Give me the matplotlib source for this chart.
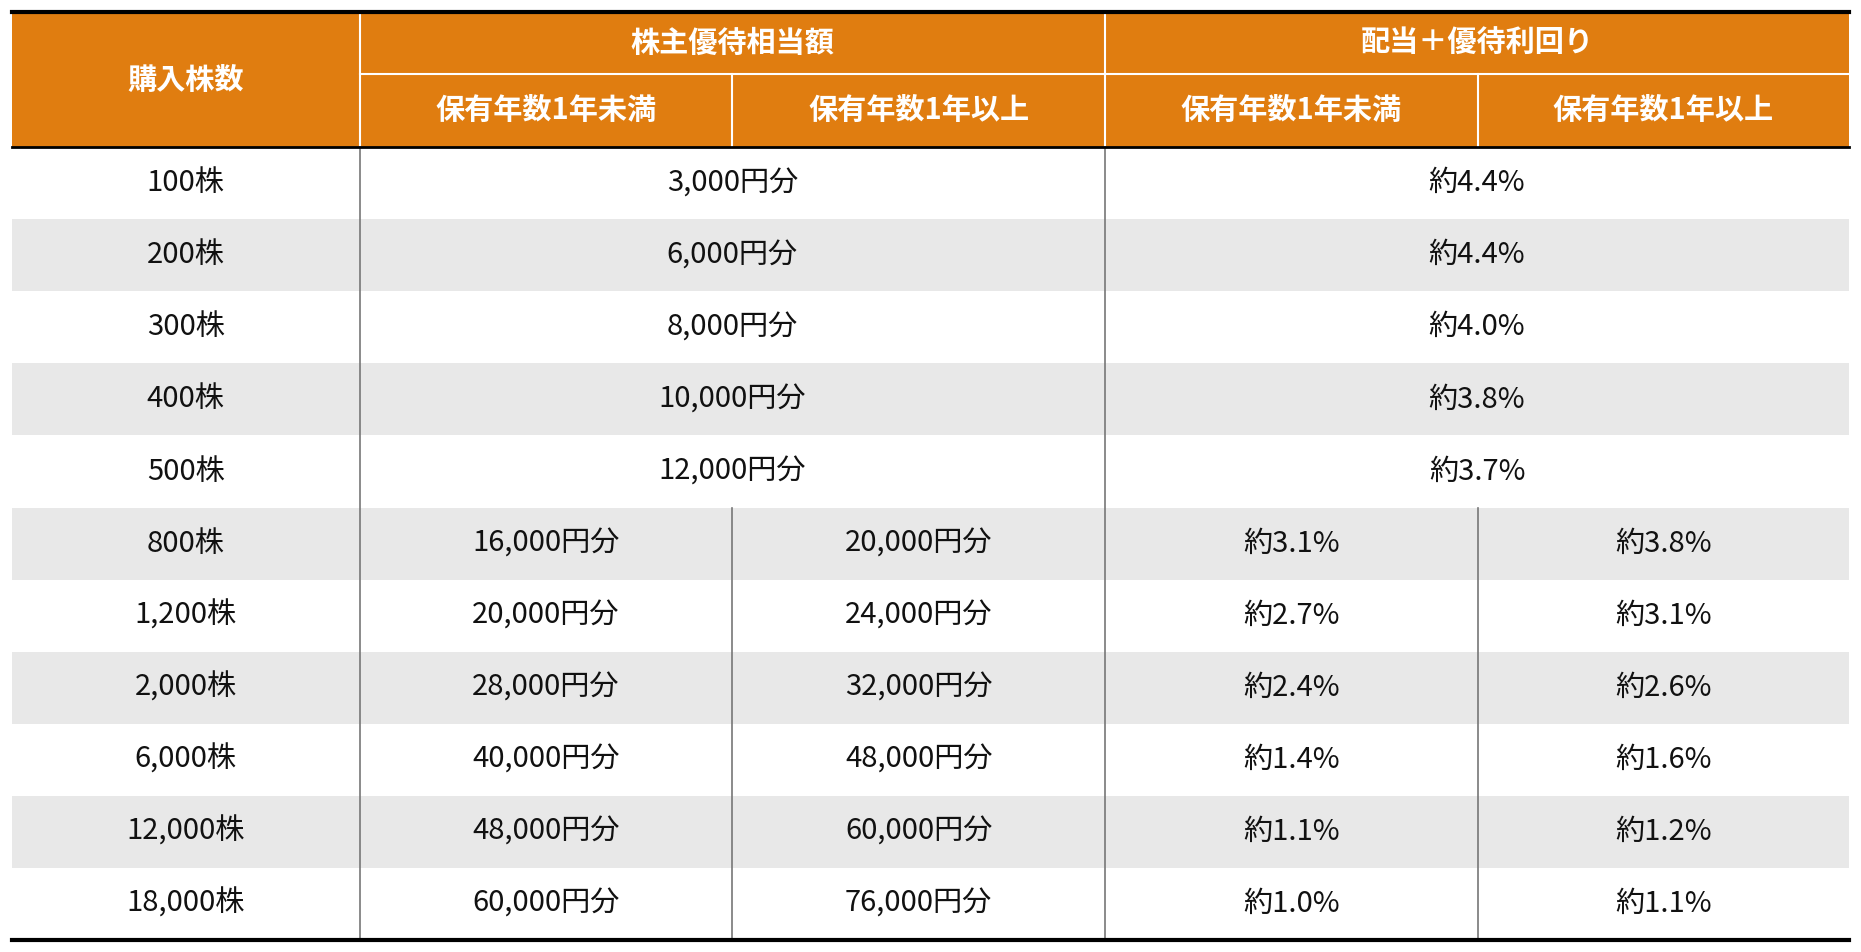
import matplotlib
matplotlib.use("Agg")
import matplotlib.pyplot as plt
from matplotlib.patches import Rectangle

plt.rcParams['font.family'] = ['Noto Sans CJK JP', 'DejaVu Sans']

shares = ["100株","200株","300株","400株","500株","800株","1,200株","2,000株","6,000株","12,000株","18,000株"]
benefit_lt1 = ["3,000円分","6,000円分","8,000円分","10,000円分","12,000円分","16,000円分","20,000円分","28,000円分","40,000円分","48,000円分","60,000円分"]
benefit_ge1 = ["3,000円分","6,000円分","8,000円分","10,000円分","12,000円分","20,000円分","24,000円分","32,000円分","48,000円分","60,000円分","76,000円分"]
yield_lt1 = ["約4.4%","約4.4%","約4.0%","約3.8%","約3.7%","約3.1%","約2.7%","約2.4%","約1.4%","約1.1%","約1.0%"]
yield_ge1 = ["約4.4%","約4.4%","約4.0%","約3.8%","約3.7%","約3.8%","約3.1%","約2.6%","約1.6%","約1.2%","約1.1%"]
merged_rows = 5
head_top = "購入株数"
group1 = "株主優待相当額"
group2 = "配当＋優待利回り"
sub1 = "保有年数1年未満"
sub2 = "保有年数1年以上"

W, H = 1861, 952
s = 1861/1568
fig = plt.figure(figsize=(W/100, H/100), dpi=100)
ax = fig.add_axes([0, 0, 1, 1])
ax.set_xlim(0, W); ax.set_ylim(H, 0); ax.axis('off')

cols = [c*s for c in [10, 303, 617, 931, 1245, 1558]]
top, mid, hb, bottom = 10*s, 62*s, 124*s, 792*s
n = len(shares)
rh = (bottom-hb)/n
orange = "#E07D10"
fs = 21

ax.add_patch(Rectangle((cols[0], top), cols[-1]-cols[0], hb-top, color=orange, lw=0))
# header separators (white)
for x in cols[1:-1]:
    y0 = top if x in (cols[1], cols[3]) else mid
    ax.plot([x, x], [y0, hb], color='white', lw=1.5)
ax.plot([cols[1], cols[-1]], [mid, mid], color='white', lw=1.5)
hk = dict(color='white', fontsize=fs, fontweight='bold', ha='center', va='center')
ax.text((cols[0]+cols[1])/2, (top+hb)/2, head_top, **hk)
ax.text((cols[1]+cols[3])/2, (top+mid)/2, group1, **hk)
ax.text((cols[3]+cols[5])/2, (top+mid)/2, group2, **hk)
for i, t in enumerate([sub1, sub2, sub1, sub2]):
    ax.text((cols[i+1]+cols[i+2])/2, (mid+hb)/2, t, **hk)

for r in range(n):
    y = hb + r*rh
    if r % 2 == 1:
        ax.add_patch(Rectangle((cols[0], y), cols[-1]-cols[0], rh, color='#E8E8E8', lw=0))
    yc = y + rh/2
    tk = dict(color='#111111', fontsize=fs, ha='center', va='center')
    ax.text((cols[0]+cols[1])/2, yc, shares[r], **tk)
    if r < merged_rows:
        ax.text((cols[1]+cols[3])/2, yc, benefit_lt1[r], **tk)
        ax.text((cols[3]+cols[5])/2, yc, yield_lt1[r], **tk)
    else:
        ax.text((cols[1]+cols[2])/2, yc, benefit_lt1[r], **tk)
        ax.text((cols[2]+cols[3])/2, yc, benefit_ge1[r], **tk)
        ax.text((cols[3]+cols[4])/2, yc, yield_lt1[r], **tk)
        ax.text((cols[4]+cols[5])/2, yc, yield_ge1[r], **tk)

gy = '#777777'
for x in (cols[1], cols[3]):
    ax.plot([x, x], [hb, bottom], color=gy, lw=1.2)
for x in (cols[2], cols[4]):
    ax.plot([x, x], [hb + merged_rows*rh, bottom], color=gy, lw=1.2)

ax.plot([cols[0], cols[-1]], [top, top], color='black', lw=3)
ax.plot([cols[0], cols[-1]], [hb, hb], color='black', lw=2)
ax.plot([cols[0], cols[-1]], [bottom, bottom], color='black', lw=3)

fig.savefig("out.png", dpi=100, facecolor='white')
